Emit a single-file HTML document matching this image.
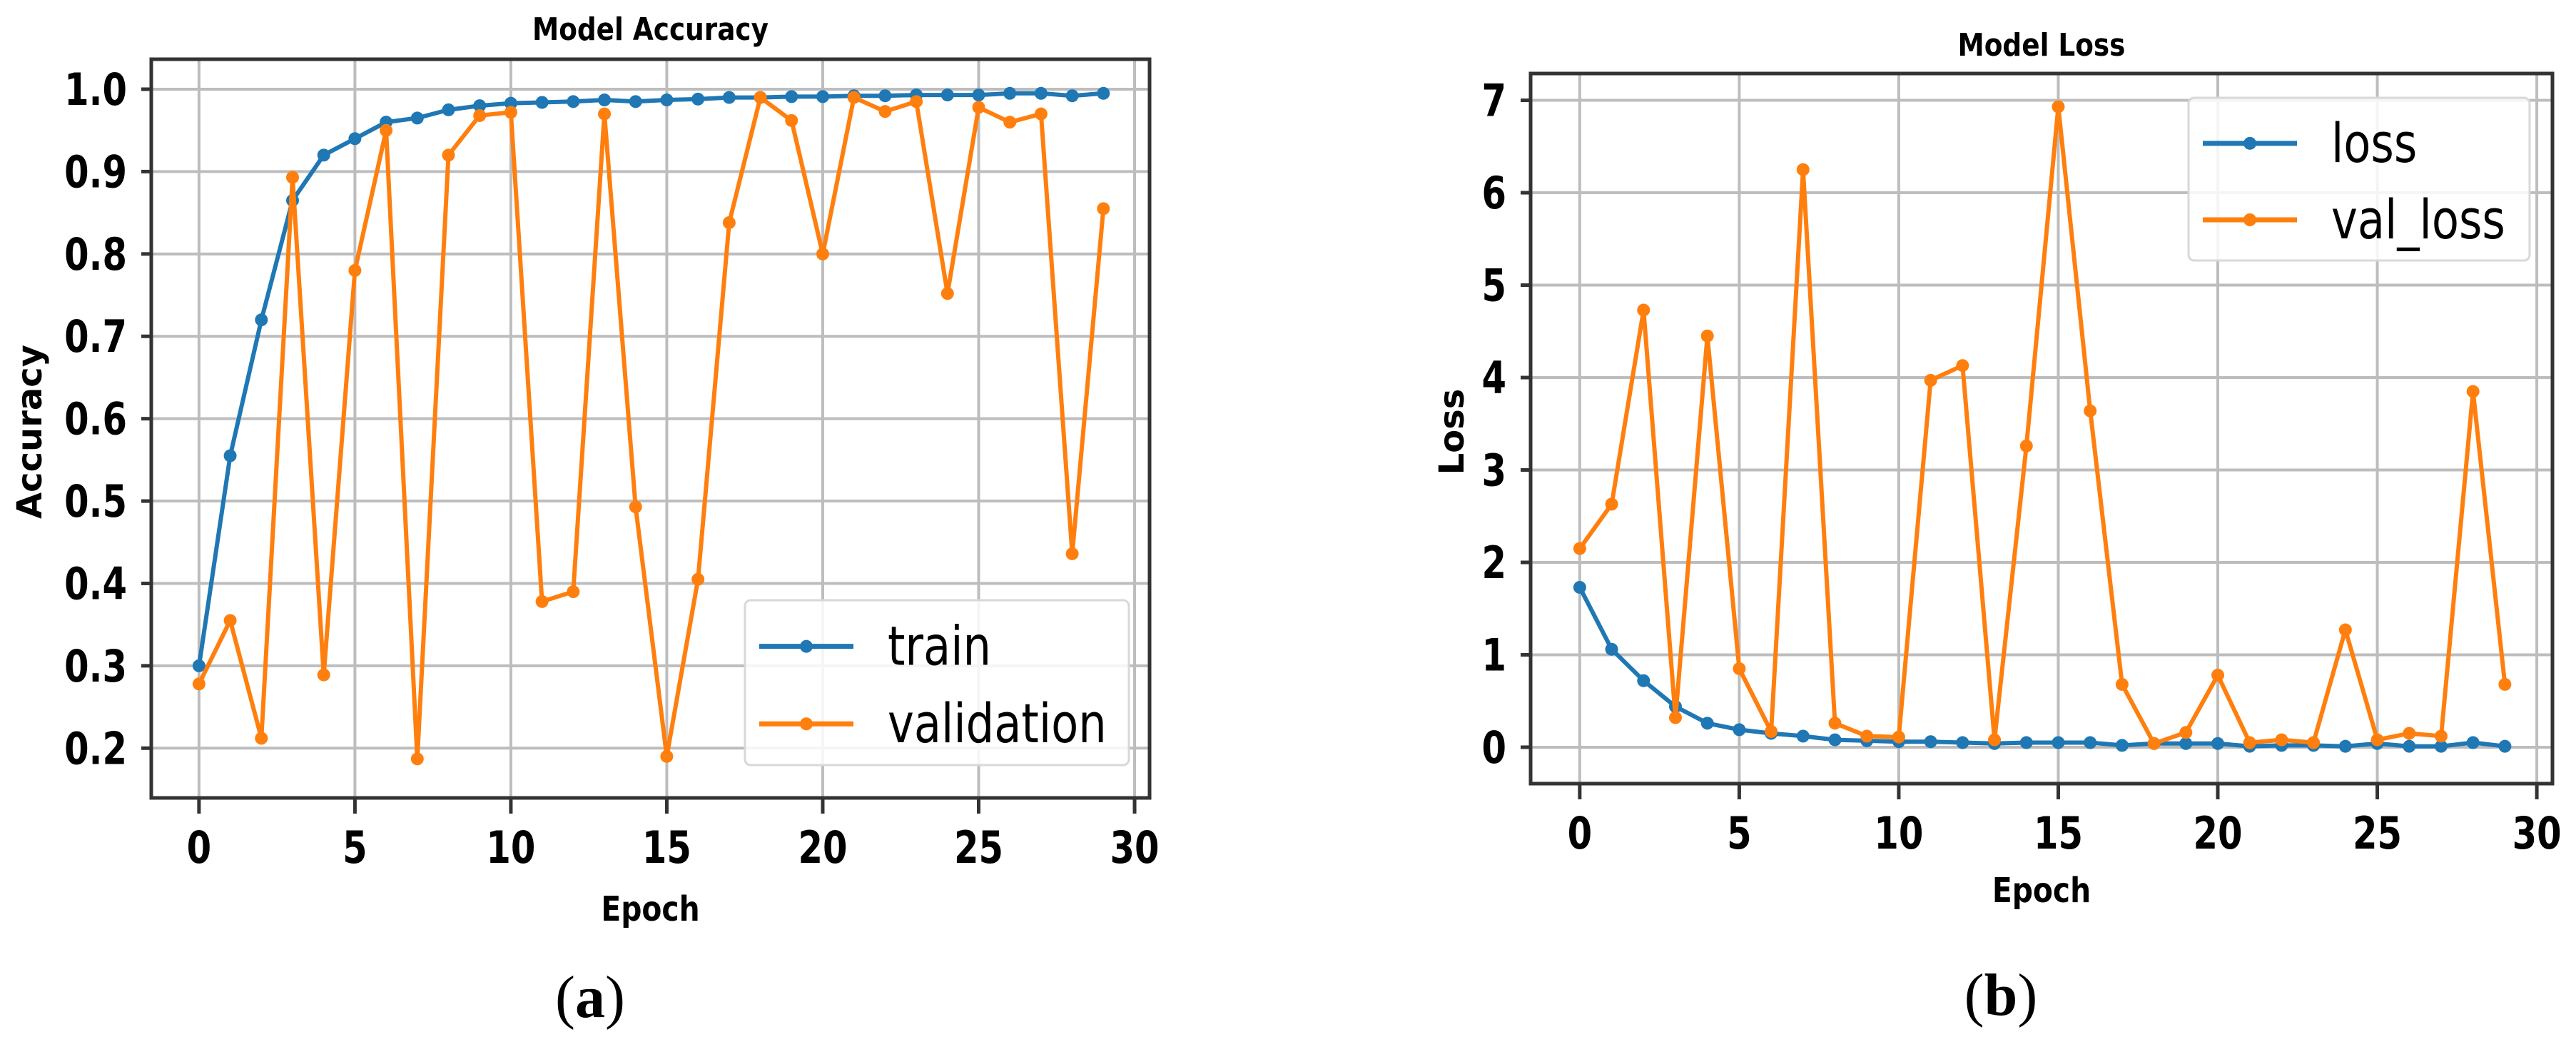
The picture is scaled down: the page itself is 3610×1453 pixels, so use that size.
<!DOCTYPE html>
<html><head><meta charset="utf-8">
<style>html,body{margin:0;padding:0;background:#fff;}svg{display:block;}</style></head>
<body>
<svg id="fig" width="3610" height="1453" xmlns="http://www.w3.org/2000/svg" font-family="'DejaVu Sans', 'Liberation Sans', sans-serif"></svg>
<script>
const epochs = [0,1,2,3,4,5,6,7,8,9,10,11,12,13,14,15,16,17,18,19,20,21,22,23,24,25,26,27,28,29];
const trainAcc = [0.30,0.555,0.72,0.865,0.92,0.94,0.96,0.965,0.975,0.98,0.983,0.984,0.985,0.987,0.985,0.987,0.988,0.99,0.99,0.991,0.991,0.992,0.992,0.993,0.993,0.993,0.995,0.995,0.992,0.995];
const valAcc = [0.278,0.355,0.212,0.893,0.289,0.78,0.95,0.187,0.92,0.968,0.972,0.378,0.39,0.97,0.493,0.19,0.405,0.838,0.99,0.962,0.80,0.99,0.973,0.985,0.752,0.978,0.96,0.97,0.436,0.855];
const trainLoss = [1.73,1.06,0.72,0.44,0.26,0.19,0.15,0.12,0.08,0.07,0.06,0.06,0.05,0.04,0.05,0.05,0.05,0.02,0.04,0.04,0.04,0.01,0.02,0.02,0.01,0.04,0.01,0.01,0.05,0.01];
const valLoss = [2.15,2.63,4.73,0.32,4.45,0.85,0.17,6.25,0.26,0.12,0.11,3.97,4.13,0.08,3.26,6.93,3.64,0.68,0.04,0.16,0.78,0.05,0.08,0.05,1.27,0.08,0.15,0.12,3.85,0.68];
const xTicks = [0,5,10,15,20,25,30];
const accTicks = [0.2,0.3,0.4,0.5,0.6,0.7,0.8,0.9,1.0];
const accTickLabels = ["0.2","0.3","0.4","0.5","0.6","0.7","0.8","0.9","1.0"];
const lossTicks = [0,1,2,3,4,5,6,7];
const lossTickLabels = ["0","1","2","3","4","5","6","7"];

const NS = "http://www.w3.org/2000/svg";
const svg = document.getElementById('fig');
function mk(tag, attrs, parent, text) {
  const e = document.createElementNS(NS, tag);
  for (const k in attrs) e.setAttribute(k, attrs[k]);
  if (text !== undefined) e.textContent = text;
  (parent || svg).appendChild(e);
  return e;
}
function sq(x, f) { return `translate(${x},0) scale(${f},1) translate(${-x},0)`; }

function panel(cfg) {
  const g = mk('g', {});
  
  
  const sx = v => cfg.L + (v - cfg.xmin) / (cfg.xmax - cfg.xmin) * (cfg.R - cfg.L);
  const sy = v => cfg.B - (v - cfg.ymin) / (cfg.ymax - cfg.ymin) * (cfg.B - cfg.T);
  xTicks.forEach(t => {
    const l = mk('line', {x1: sx(t), x2: sx(t), y1: cfg.T, y2: cfg.B, stroke: '#bdbdbd', 'stroke-width': 4}, g);
    
    
  });
  cfg.yTicks.forEach(t => {
    const l = mk('line', {x1: cfg.L, x2: cfg.R, y1: sy(t), y2: sy(t), stroke: '#bdbdbd', 'stroke-width': 4}, g);
    
    
  });
  cfg.series.forEach(s => {
    const pts = epochs.map((e, i) => sx(e).toFixed(1) + ',' + sy(s.data[i]).toFixed(1)).join(' ');
    const pl = mk('polyline', {points: pts, fill: 'none', stroke: s.color, 'stroke-width': 6, 'stroke-linejoin': 'round'}, g);
    
    
    epochs.forEach((e, i) => {
      const c = mk('circle', {cx: sx(e), cy: sy(s.data[i]), r: 9, fill: s.color}, g);
      
      
    });
  });
  const fr = mk('rect', {x: cfg.L, y: cfg.T, width: cfg.R - cfg.L, height: cfg.B - cfg.T, fill: 'none', stroke: '#333', 'stroke-width': 5}, g);
  
  
  xTicks.forEach(t => {
    mk('line', {x1: sx(t), x2: sx(t), y1: cfg.B, y2: cfg.B + 22, stroke: '#333', 'stroke-width': 5}, g);
    const tx = mk('text', {x: sx(t), y: cfg.B + 91, 'text-anchor': 'middle', 'font-size': 62, 'font-weight': 'bold', fill: '#000', transform: sq(sx(t), 0.8)}, g, String(t));
    
    
  });
  cfg.yTicks.forEach((t, i) => {
    mk('line', {x1: cfg.L - 14, x2: cfg.L, y1: sy(t), y2: sy(t), stroke: '#333', 'stroke-width': 5}, g);
    const ax = cfg.L - 34;
    const tx = mk('text', {x: ax, y: sy(t) + 22, 'text-anchor': 'end', 'font-size': 62, 'font-weight': 'bold', fill: '#000', transform: sq(ax, 0.8)}, g, cfg.yLabels[i]);
    
    
  });
  const cx = (cfg.L + cfg.R) / 2;
  const ti = mk('text', {x: cx, y: cfg.titleY, 'text-anchor': 'middle', 'font-size': 44, 'font-weight': 'bold', fill: '#000', transform: sq(cx, 0.85)}, g, cfg.title);
  
  
  const xl = mk('text', {x: cx, y: cfg.epochY, 'text-anchor': 'middle', 'font-size': 48, 'font-weight': 'bold', fill: '#000', transform: sq(cx, 0.85)}, g, 'Epoch');
  
  
  const yl = mk('text', {x: 0, y: 0, 'text-anchor': 'middle', 'font-size': 48, 'font-weight': 'bold', fill: '#000', transform: `translate(${cfg.ylabX},${cfg.ylabY}) rotate(-90)`}, g, cfg.ylabel);
  
  
  const cap = mk('text', {x: cfg.capX, y: cfg.capY, 'text-anchor': 'middle', 'font-size': 84, 'font-family': "'Liberation Serif', serif", fill: '#000'}, g);
  
  
  mk('tspan', {}, cap, '(');
  mk('tspan', {'font-weight': 'bold'}, cap, cfg.cap);
  mk('tspan', {}, cap, ')');
  const lg = mk('g', {}, g);
  
  
  const lb = cfg.legend;
  mk('rect', {x: lb.x, y: lb.y, width: lb.w, height: lb.h, rx: 8, fill: 'rgba(255,255,255,0.85)', stroke: '#d8d8d8', 'stroke-width': 3}, lg);
  cfg.series.forEach((s, i) => {
    const yy = lb.y + lb.h * (0.28 + 0.47 * i);
    const en = mk('g', {}, lg);
    
    
    mk('line', {x1: lb.x + 20, x2: lb.x + 152, y1: yy, y2: yy, stroke: s.color, 'stroke-width': 7}, en);
    mk('circle', {cx: lb.x + 86, cy: yy, r: 9, fill: s.color}, en);
    const tx = lb.x + 200;
    mk('text', {x: tx, y: yy + 26, 'font-size': 76, fill: '#000', transform: sq(tx, 0.82)}, en, s.label);
  });
}

panel({name: 'accuracy-chart', L: 212, R: 1611, T: 83, B: 1118, xmin: -1.53, xmax: 30.48, ymin: 0.1396, ymax: 1.0364,
  yTicks: accTicks, yLabels: accTickLabels, title: 'Model Accuracy', ylabel: 'Accuracy',
  titleY: 56, epochY: 1290, ylabX: 58, ylabY: 605, capX: 827, capY: 1425, cap: 'a',
  legend: {x: 1044, y: 841, w: 538, h: 231},
  series: [{key: 'train', label: 'train', data: trainAcc, color: '#1f77b4'}, {key: 'validation', label: 'validation', data: valAcc, color: '#ff7f0e'}]});

panel({name: 'loss-chart', L: 2145, R: 3577, T: 103, B: 1098, xmin: -1.54, xmax: 30.49, ymin: -0.394, ymax: 7.29,
  yTicks: lossTicks, yLabels: lossTickLabels, title: 'Model Loss', ylabel: 'Loss',
  titleY: 78, epochY: 1264, ylabX: 2051, ylabY: 605, capX: 2804, capY: 1422, cap: 'b',
  legend: {x: 3067, y: 137, w: 478, h: 228},
  series: [{key: 'loss', label: 'loss', data: trainLoss, color: '#1f77b4'}, {key: 'val-loss', label: 'val_loss', data: valLoss, color: '#ff7f0e'}]});
</script>
</body></html>
